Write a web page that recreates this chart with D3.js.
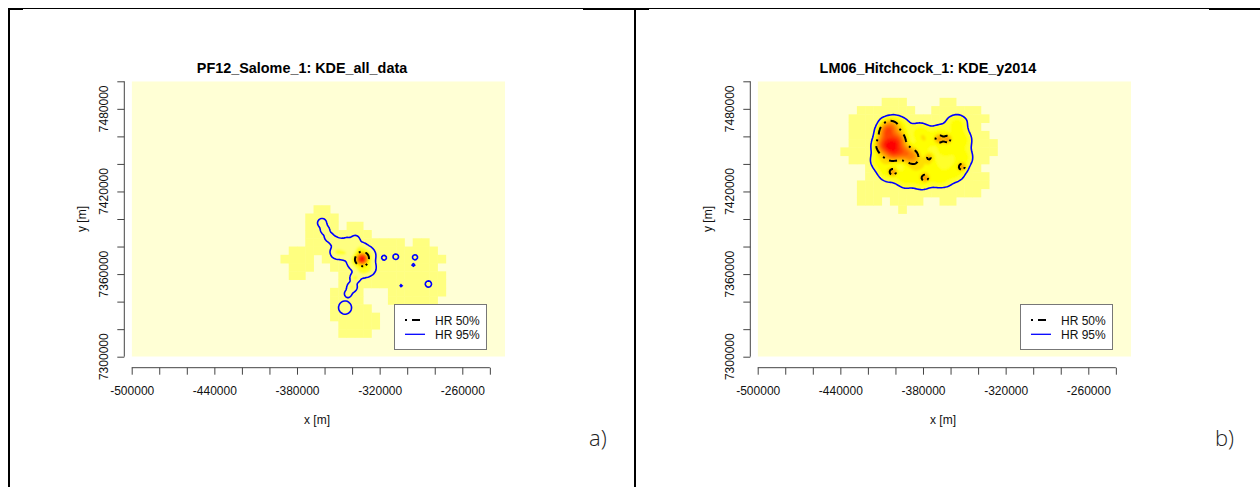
<!DOCTYPE html>
<html>
<head>
<meta charset="utf-8">
<script src="https://cdn.jsdelivr.net/npm/d3@7"></script>
<style>
  body { margin: 0; background: #fff; }
  svg { display: block; font-family: "Liberation Sans", Arial, sans-serif; }
</style>
</head>
<body>
<svg id="chart" width="1260" height="487"></svg>
<script>
// axis ticks and labels (metres)
const xTicks = d3.range(-500000, -239999, 20000);
const xLabels = [-500000, -440000, -380000, -320000, -260000];
const yTicks = d3.range(7300000, 7500001, 20000);
const yLabels = [7300000, 7360000, 7420000, 7480000];

// kernel centres: arm, core + halo, body, left blob, stem, loop, islands, outliers
const salomeX = [-361800, -359600, -356700, -353100, -348700, -343600, -337800,
  -332800, -332800, -334200, -329100, -337800, -328400, -332800,
  -350900, -345100,
  -337800, -340000, -342900,
  -345100,
  -316800, -308300, -294300, -295500, -304400, -284600,
  -377800, -364700, -285600, -285600, -301500, -341500, -332800, -316100, -347300];
const salomeY = [7397100, 7392000, 7386900, 7384000, 7382600, 7383300, 7384800,
  7371000, 7371000, 7377500, 7373900, 7368800, 7364400, 7363000,
  7376000, 7375300,
  7357200, 7350600, 7345800,
  7335600,
  7371900, 7372600, 7372200, 7366600, 7351600, 7352800,
  7368800, 7384800, 7372400, 7349900, 7347000, 7326700, 7326700, 7359300, 7341200];
const salomeW = [0.022, 0.022, 0.022, 0.022, 0.022, 0.022, 0.022,
  0.8, 0.12, 0.07, 0.075, 0.07, 0.075, 0.07,
  0.06, 0.05,
  0.035, 0.033, 0.014,
  0.045,
  0.006, 0.008, 0.007, 0.003, 0.002, 0.01,
  0.001, 0.001, 0.001, 0.001, 0.001, 0.001, 0.001, 0.001, 0.001];
const salomeH = [2000, 2000, 2000, 2000, 2000, 2000, 2000,
  2400, 5000, 3000, 3000, 3000, 3000, 3000,
  2800, 2800,
  2000, 2000, 2000,
  3000,
  1400, 1500, 1500, 1200, 1000, 1800,
  3000, 3000, 3000, 3000, 3000, 3000, 3000, 3000, 3000];

// kernel centres: core, yellow area, small cores, outliers
const hitchX = [-406800, -409000, -403200, -398100, -401700, -394500, -387900, -403900,
  -396700, -382100, -367600, -355300, -351600, -350900, -356700, -367600, -380700, -393000, -405400, -411200, -374900, -364000, -385800, -378500,
  -368300, -362300, -401700, -378500, -351600, -375600,
  -400300, -364000, -345800, -338600, -344400, -360400, -393000, -417000, -425700, -424300, -411200];
const hitchY = [7462500, 7453700, 7453700, 7457400, 7447900, 7448700, 7445800, 7466800,
  7467300, 7463000, 7461600, 7469000, 7457400, 7444300, 7434100, 7429800, 7428300, 7429800, 7434100, 7442800, 7439200, 7450100, 7439200, 7455400,
  7458100, 7458100, 7434100, 7429800, 7437800, 7445000,
  7479200, 7474800, 7473300, 7450100, 7428300, 7422500, 7418200, 7421100, 7450100, 7468300, 7473300];
const hitchW = [0.06, 0.065, 0.075, 0.065, 0.065, 0.06, 0.045, 0.05,
  0.025, 0.025, 0.025, 0.027, 0.027, 0.027, 0.027, 0.027, 0.027, 0.027, 0.027, 0.027, 0.027, 0.027, 0.027, 0.025,
  0.01, 0.01, 0.008, 0.007, 0.008, 0.008,
  0.001, 0.001, 0.001, 0.001, 0.001, 0.001, 0.001, 0.001, 0.001, 0.001, 0.001];
const hitchH = [4000, 4000, 4000, 4000, 4000, 4000, 4000, 4000,
  5000, 5000, 5000, 5000, 5000, 5000, 5000, 5000, 5000, 5000, 5000, 5000, 5000, 5000, 5000, 5000,
  2000, 2000, 1800, 1600, 1800, 2200,
  3000, 3000, 3000, 3000, 3000, 3000, 3000, 3000, 3000, 3000, 3000];

const hrLevels = [0.5, 0.95];
// rev(heat.colors(12))
const heatColors = ["#FFFFD5", "#FFFF80", "#FFFF2B", "#FFFF00", "#FFDF00", "#FFBF00",
  "#FF9F00", "#FF8000", "#FF6000", "#FF4000", "#FF2000", "#FF0000"];
const colourGamma = 1.7;

const gridX0 = -500000, gridX1 = -229000, gridY0 = 7300000, gridY1 = 7500000;
const cell = 1000;
const nx = (gridX1 - gridX0) / cell, ny = (gridY1 - gridY0) / cell;
const bandCell = 6000, bandReach = 11500;

const svg = d3.select("#chart");
const defs = svg.append("defs");
defs.append("filter").attr("id", "soft").append("feGaussianBlur").attr("stdDeviation", 0.8);

// table frame
svg.append("line").attr("x1", 8).attr("x2", 1260).attr("y1", 8.5).attr("y2", 8.5).attr("stroke", "#000");
[[8, 15], [583, 66], [1209, 51]].forEach(([x0, w]) =>
  svg.append("rect").attr("x", x0).attr("y", 8).attr("width", w).attr("height", 2).attr("fill", "#000"));
[8, 634].forEach(x0 =>
  svg.append("rect").attr("x", x0).attr("y", 8).attr("width", 2).attr("height", 479).attr("fill", "#000"));

function kde(xs, ys, ws, hs) {
  const v = new Float64Array(nx * ny);
  xs.forEach((px, k) => {
    const h = hs[k], r = 4 * h, c = ws[k] / (2 * Math.PI * (h / 1000) ** 2);
    const i0 = Math.max(0, Math.floor((px - r - gridX0) / cell));
    const i1 = Math.min(nx - 1, Math.ceil((px + r - gridX0) / cell));
    const j0 = Math.max(0, Math.floor((gridY1 - ys[k] - r) / cell));
    const j1 = Math.min(ny - 1, Math.ceil((gridY1 - ys[k] + r) / cell));
    for (let j = j0; j <= j1; j++) {
      const dy = gridY1 - (j + 0.5) * cell - ys[k];
      for (let i = i0; i <= i1; i++) {
        const dx = gridX0 + (i + 0.5) * cell - px;
        v[j * nx + i] += c * Math.exp(-(dx * dx + dy * dy) / (2 * h * h));
      }
    }
  });
  return v;
}

function volumeLevel(v, p) {
  const s = Array.from(v).sort((a, b) => b - a);
  const total = d3.sum(s);
  let acc = 0;
  for (const val of s) { acc += val; if (acc >= p * total) return val; }
  return s[s.length - 1];
}

function drawPanel(p) {
  const g = svg.append("g").attr("transform", `translate(${p.dx},0)`);
  const x = d3.scaleLinear().domain([gridX0, gridX1]).range([131.7, 505]);
  const y = d3.scaleLinear().domain([gridY0, gridY1]).range([356.7, 81.3]);

  g.append("clipPath").attr("id", p.id).append("rect")
    .attr("x", x(gridX0)).attr("y", y(gridY1))
    .attr("width", x(gridX1) - x(gridX0)).attr("height", y(gridY0) - y(gridY1));

  const img = g.append("g").attr("clip-path", `url(#${p.id})`);
  img.append("rect")
    .attr("x", x(gridX0)).attr("y", y(gridY1))
    .attr("width", x(gridX1) - x(gridX0)).attr("height", y(gridY0) - y(gridY1))
    .attr("fill", heatColors[0]);

  // coarse support of the locations
  const cells = [];
  for (let j = 0; j * bandCell < gridY1 - gridY0; j++) {
    for (let i = 0; i * bandCell < gridX1 - gridX0; i++) {
      const cx = gridX0 + (i + 0.5) * bandCell, cy = gridY1 - (j + 0.5) * bandCell;
      const near = p.xs.some((px, k) => Math.hypot(px - cx, p.ys[k] - cy) < bandReach);
      if (near) cells.push({ x0: gridX0 + i * bandCell, y1: gridY1 - j * bandCell });
    }
  }
  img.append("g").selectAll("rect").data(cells).join("rect")
    .attr("x", d => x(d.x0)).attr("y", d => y(d.y1))
    .attr("width", d => x(d.x0 + bandCell) - x(d.x0) + 0.4)
    .attr("height", d => y(d.y1 - bandCell) - y(d.y1) + 0.4)
    .attr("fill", heatColors[1]);

  // utilisation distribution
  const values = kde(p.xs, p.ys, p.ws, p.hs);
  const vmax = d3.max(values);
  const proj = d3.geoTransform({
    point(gx, gy) { this.stream.point(x(gridX0 + gx * cell), y(gridY1 - gy * cell)); }
  });
  const path = d3.geoPath(proj);
  const levels = d3.range(1, 12).map(k => vmax * Math.pow(k / 12, colourGamma));
  const bands = d3.contours().size([nx, ny]).thresholds(levels)(values);
  img.append("g").attr("filter", "url(#soft)").selectAll("path").data(bands).join("path")
    .attr("d", path)
    .attr("fill", (d, i) => heatColors[i + 1]);

  // home range contours
  const [lv50, lv95] = hrLevels.map(q => volumeLevel(values, q));
  const c95 = d3.contours().size([nx, ny]).thresholds([lv95])(values)[0];
  const c50 = d3.contours().size([nx, ny]).thresholds([lv50])(values)[0];
  img.append("path").attr("d", path(c95))
    .attr("fill", "none").attr("stroke", "#0000FF").attr("stroke-width", 1.6);
  img.append("path").attr("d", path(c50))
    .attr("fill", "none").attr("stroke", "#000").attr("stroke-width", 2)
    .attr("stroke-dasharray", "2 5 8 5");

  // axes
  const xAxis = g.append("g").attr("transform", "translate(0,367.7)")
    .call(d3.axisBottom(x).tickValues(xTicks).tickSize(7).tickPadding(12)
      .tickFormat(d => xLabels.includes(d) ? d : ""));
  xAxis.select(".domain").remove();
  xAxis.append("line").attr("x1", x(xTicks[0])).attr("x2", x(xTicks[xTicks.length - 1]))
    .attr("stroke", "#444");
  xAxis.selectAll(".tick line").attr("stroke", "#444");
  xAxis.selectAll("text").attr("fill", "#111").style("font-size", "12px")
    .style("font-family", "'Liberation Sans', Arial, sans-serif");

  const yAxis = g.append("g").attr("transform", "translate(124.3,0)")
    .call(d3.axisLeft(y).tickValues(yTicks).tickSize(7).tickFormat(""));
  yAxis.select(".domain").remove();
  yAxis.append("line").attr("y1", y(yTicks[0])).attr("y2", y(yTicks[yTicks.length - 1]))
    .attr("stroke", "#444");
  yAxis.selectAll(".tick line").attr("stroke", "#444");
  g.append("g").selectAll("text").data(yLabels).join("text")
    .attr("transform", d => `translate(107.5,${y(d)}) rotate(-90)`)
    .attr("text-anchor", "middle").attr("fill", "#111").style("font-size", "12px")
    .text(d => d);

  g.append("text").attr("x", 317).attr("y", 424).attr("text-anchor", "middle")
    .attr("fill", "#111").style("font-size", "12px").text("x [m]");
  g.append("text").attr("transform", "translate(86,219) rotate(-90)").attr("text-anchor", "middle")
    .attr("fill", "#111").style("font-size", "12px").text("y [m]");
  g.append("text").attr("x", 302).attr("y", 73).attr("text-anchor", "middle")
    .attr("fill", "#000").style("font-size", "14.4px").style("font-weight", "bold").text(p.title);

  // legend
  const lg = g.append("g").attr("transform", "translate(394.5,304.5)");
  lg.append("rect").attr("width", 92).attr("height", 45)
    .attr("fill", "#fff").attr("stroke", "#777");
  lg.append("line").attr("x1", 10.5).attr("x2", 27.5).attr("y1", 15.5).attr("y2", 15.5)
    .attr("stroke", "#000").attr("stroke-width", 2).attr("stroke-dasharray", "2 5 8 5");
  lg.append("line").attr("x1", 10.5).attr("x2", 30.5).attr("y1", 29.8).attr("y2", 29.8)
    .attr("stroke", "#0000FF").attr("stroke-width", 1.3);
  lg.selectAll("text.key").data(["HR 50%", "HR 95%"]).join("text").attr("class", "key")
    .attr("x", 40.5).attr("y", (d, i) => 20 + i * 14.3)
    .attr("fill", "#111").style("font-size", "12px").text(d => d);

  g.append("text").attr("x", 589).attr("y", 446)
    .attr("fill", "#222").style("font-family", "'Open Sans', 'Noto Sans', sans-serif")
    .style("font-size", "22px").style("font-weight", "300").text(p.tag);
}

drawPanel({ id: "clipA", dx: 0, title: "PF12_Salome_1: KDE_all_data", tag: "a)",
  xs: salomeX, ys: salomeY, ws: salomeW, hs: salomeH });
drawPanel({ id: "clipB", dx: 626, title: "LM06_Hitchcock_1: KDE_y2014", tag: "b)",
  xs: hitchX, ys: hitchY, ws: hitchW, hs: hitchH });
</script>
</body>
</html>
